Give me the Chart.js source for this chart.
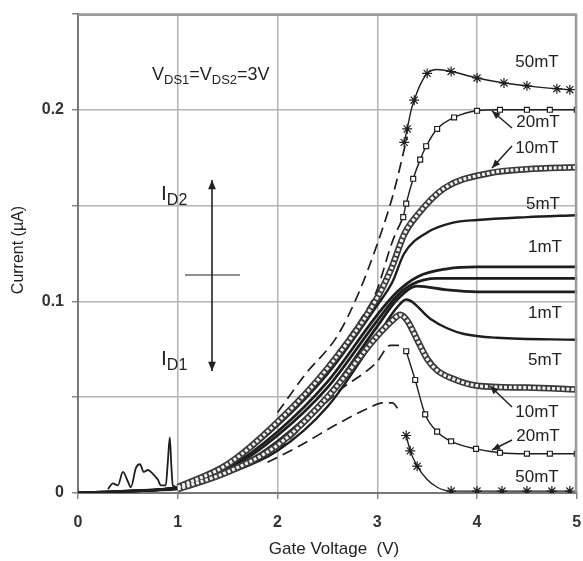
<!DOCTYPE html>
<html>
<head>
<meta charset="utf-8">
<script src="https://cdn.jsdelivr.net/npm/chart.js@4.4.1/dist/chart.umd.min.js"></script>
<style>
  html, body { margin: 0; padding: 0; background: #fff; }
  #wrap { width: 583px; height: 561px; }
</style>
</head>
<body>
<div id="wrap"><canvas id="grafico" width="583" height="561"></canvas></div>
<script>
// eixo X: tensao de gate (V), eixo Y: corrente (uA)
const xTicks = [0, 1, 2, 3, 4, 5];
const yTickLabels = ["0", "0.1", "0.2"];

// ruido perto de 1V
const ruido = [[0.3,0.002],[0.35,0.005],[0.4,0.004],[0.45,0.011],[0.5,0.006],[0.53,0.003],[0.58,0.013],[0.62,0.015],[0.66,0.011],[0.7,0.012],[0.75,0.01],[0.8,0.007],[0.83,0.004],[0.88,0.004],[0.9,0.016],[0.92,0.029],[0.935,0.015],[0.95,0.004],[1.0,0.003]];

// ===== ID2 (sobe com o campo) =====
const id2_1mT  = [[0,0],[0.5,0.001],[1,0.003],[1.5,0.013],[2,0.032],[2.5,0.058],[3,0.093],[3.2,0.105],[3.41,0.113],[3.7,0.117],[4,0.118],[5,0.118]];
const id0_0mT  = [[0,0],[0.5,0.001],[1,0.003],[1.5,0.012],[2,0.03],[2.5,0.055],[3,0.09],[3.2,0.103],[3.35,0.109],[3.6,0.112],[5,0.112]];
const id2_5mT  = [[0,0],[0.5,0.001],[1,0.003],[1.5,0.014],[2,0.035],[2.5,0.062],[3,0.098],[3.15,0.11],[3.27,0.125],[3.5,0.136],[3.75,0.141],[4,0.1425],[4.5,0.144],[5,0.145]];
const id2_10mT = [[1,0.003],[1.5,0.015],[2,0.037],[2.5,0.065],[3,0.102],[3.14,0.117],[3.27,0.135],[3.4,0.145],[3.67,0.159],[4.13,0.167],[4.5,0.169],[5,0.17]];
const id2_20mT = [[3.26,0.144],[3.29,0.151],[3.36,0.164],[3.43,0.174],[3.49,0.181],[3.6,0.19],[3.77,0.196],[4.0,0.1995],[4.23,0.2],[4.5,0.2],[4.73,0.2],[5,0.2]];
const id2_20mT_sim = [[2.4,0.06],[2.68,0.079],[2.85,0.092],[2.99,0.105],[3.15,0.131],[3.26,0.144]];
const id2_50mT = [[3.27,0.183],[3.3,0.19],[3.34,0.2],[3.37,0.205],[3.43,0.213],[3.5,0.219],[3.6,0.221],[3.74,0.22],[4.0,0.2166],[4.27,0.214],[4.5,0.2125],[4.8,0.211],[4.93,0.2105]];
const id2_50mT_sim = [[2.0,0.042],[2.28,0.062],[2.6,0.082],[2.81,0.104],[3.0,0.13],[3.16,0.156],[3.3,0.186]];

// ===== ID1 (desce com o campo) =====
const id1_1mT  = [[0,0],[0.5,0.001],[1,0.003],[1.5,0.011],[2,0.027],[2.5,0.051],[3,0.087],[3.2,0.101],[3.4,0.108],[3.7,0.106],[4,0.105],[5,0.105]];
const id1_5mT  = [[0,0],[0.5,0.001],[1,0.002],[1.5,0.01],[2,0.022],[2.5,0.045],[3,0.082],[3.2,0.097],[3.29,0.101],[3.53,0.091],[3.7,0.086],[3.87,0.083],[4.2,0.081],[5,0.08]];
const id1_10mT = [[1,0.002],[1.5,0.011],[2,0.025],[2.5,0.05],[3,0.082],[3.15,0.09],[3.23,0.093],[3.3,0.09],[3.4,0.08],[3.5,0.07],[3.6,0.064],[3.74,0.06],[4,0.056],[4.5,0.055],[5,0.054]];
const id1_20mT = [[3.29,0.074],[3.38,0.059],[3.48,0.041],[3.6,0.032],[3.74,0.027],[3.99,0.023],[4.23,0.021],[4.5,0.0205],[4.73,0.0205],[5,0.0205]];
const id1_20mT_sim = [[2.0,0.022],[2.14,0.029],[2.61,0.053],[2.99,0.068],[3.13,0.077],[3.22,0.077]];
const id1_50mT = [[3.29,0.03],[3.33,0.022],[3.4,0.014],[3.5,0.007],[3.6,0.003],[3.74,0.001],[4,0.001],[4.25,0.001],[4.5,0.001],[4.75,0.001],[4.93,0.001]];
const id1_50mT_sim = [[1.9,0.016],[2.2,0.024],[2.6,0.036],[2.94,0.045],[3.05,0.047],[3.15,0.047],[3.22,0.043]];

const PRETO = "#1e1e1e";
const FONTE = "'Liberation Sans', Arial, sans-serif";

function pts(arr) { return arr.map(p => ({ x: p[0], y: p[1] })); }

// order: quanto maior, mais em baixo fica a curva
function linha(arr, extra) {
  return Object.assign({
    data: pts(arr),
    showLine: true,
    borderColor: PRETO,
    borderWidth: 2.2,
    pointRadius: 0,
    cubicInterpolationMode: "monotone",
    fill: false,
    order: 5
  }, extra || {});
}
function tracejada(arr) {
  return linha(arr, { borderWidth: 1.7, borderDash: [11, 6], order: 6 });
}
function quadrados(arr) {
  return linha(arr, { borderWidth: 1.4, pointStyle: "rect", pointRadius: 3.5, pointBackgroundColor: "#fff", pointBorderColor: PRETO, pointBorderWidth: 1.2, order: 1 });
}
// asteriscos so em alguns pontos (o resto so desenha a curva)
function asteriscos(arr, mostrar) {
  return linha(arr, {
    borderWidth: 1.4, pointStyle: "star",
    pointRadius: arr.map((p, i) => mostrar.includes(i) ? 5 : 0),
    pointBorderColor: PRETO, pointBorderWidth: 1.2, order: 1
  });
}
// linha de circulos densos: traço grosso escuro + traço claro picotado por cima
function circulos(arr) {
  return [
    linha(arr, { borderColor: "#3a3a3a", borderWidth: 6.5, order: 3 }),
    linha(arr, { borderColor: "#f2f2f2", borderWidth: 3.2, borderDash: [3, 1.8], borderCapStyle: "butt", order: 2 })
  ];
}

const datasets = [
  linha(ruido, { borderWidth: 1.8 }),
  tracejada(id2_50mT_sim), tracejada(id2_20mT_sim), tracejada(id1_20mT_sim), tracejada(id1_50mT_sim),
  linha(id0_0mT, { borderWidth: 2.8 }),
  linha(id2_1mT, { borderWidth: 2.8 }),
  linha(id1_1mT, { borderWidth: 2.8 }),
  linha(id2_5mT, { borderWidth: 2.4 }), linha(id1_5mT, { borderWidth: 2.4 }),
  ...circulos(id2_10mT), ...circulos(id1_10mT),
  quadrados(id2_20mT), quadrados(id1_20mT),
  asteriscos(id2_50mT, [0, 1, 3, 5, 7, 8, 9, 10, 11, 12]),
  asteriscos(id1_50mT, [0, 1, 2, 5, 6, 7, 8, 9, 10])
];

// ===== textos e setas =====
function seta(ctx, x1, y1, x2, y2, tam) {
  const a = Math.atan2(y2 - y1, x2 - x1);
  ctx.beginPath(); ctx.moveTo(x1, y1); ctx.lineTo(x2, y2); ctx.stroke();
  ctx.beginPath();
  ctx.moveTo(x2, y2);
  ctx.lineTo(x2 - tam * Math.cos(a - 0.4), y2 - tam * Math.sin(a - 0.4));
  ctx.lineTo(x2 - tam * Math.cos(a + 0.4), y2 - tam * Math.sin(a + 0.4));
  ctx.closePath(); ctx.fill();
}
function comIndice(ctx, x, y, base, sub, fb, fs) {
  ctx.font = fb + "px " + FONTE;
  ctx.fillText(base, x, y);
  let w = ctx.measureText(base).width;
  ctx.font = fs + "px " + FONTE;
  ctx.fillText(sub, x + w, y + fb * 0.3);
  return x + w + ctx.measureText(sub).width;
}

const anotacoes = {
  id: "anotacoes",
  afterDraw(chart) {
    const ctx = chart.ctx, a = chart.chartArea;
    ctx.save();

    // moldura em cima e a direita
    ctx.strokeStyle = "#9a9a9a";
    ctx.lineWidth = 2;
    ctx.beginPath();
    ctx.moveTo(a.left, a.top + 1); ctx.lineTo(a.right - 1, a.top + 1); ctx.lineTo(a.right - 1, a.bottom);
    ctx.stroke();

    ctx.fillStyle = "#222";
    ctx.strokeStyle = "#222";
    ctx.textBaseline = "middle";
    ctx.textAlign = "left";

    // VDS1 = VDS2 = 3V
    let x = comIndice(ctx, 152, 75, "V", "DS1", 18, 13);
    x = comIndice(ctx, x, 75, "=V", "DS2", 18, 13);
    ctx.font = "18px " + FONTE;
    ctx.fillText("=3V", x, 75);

    // ID2 / ID1
    comIndice(ctx, 161, 194, "I", "D2", 21, 16);
    comIndice(ctx, 161, 359, "I", "D1", 21, 16);
    ctx.lineWidth = 1.6;
    seta(ctx, 212, 273, 212, 180, 10);
    seta(ctx, 212, 273, 212, 371, 10);
    ctx.lineWidth = 1.2;
    ctx.beginPath(); ctx.moveTo(185, 275); ctx.lineTo(240, 275); ctx.stroke();

    // rotulos de campo
    ctx.font = "17px " + FONTE;
    ctx.textAlign = "center";
    const rot = [["50mT", 537, 62], ["20mT", 538, 122], ["10mT", 537, 148], ["5mT", 543, 204], ["1mT", 545, 247],
                 ["1mT", 545, 313], ["5mT", 545, 360], ["10mT", 537, 412], ["20mT", 538, 436], ["50mT", 537, 477]];
    rot.forEach(r => ctx.fillText(r[0], r[1], r[2]));
    ctx.lineWidth = 1.5;
    seta(ctx, 512, 128, 492, 111, 9);
    seta(ctx, 512, 146, 492, 168, 9);
    seta(ctx, 512, 407, 490, 386, 9);
    seta(ctx, 512, 440, 492, 450, 9);

    // titulos dos eixos
    ctx.font = "17px " + FONTE;
    ctx.fillText("Gate Voltage  (V)", 334, 549);
    ctx.save();
    ctx.translate(19, 250);
    ctx.rotate(-Math.PI / 2);
    ctx.font = "16px " + FONTE;
    ctx.fillText("Current (\u00b5A)", 0, 0);
    ctx.restore();
    ctx.restore();
  }
};

new Chart(document.getElementById("grafico"), {
  type: "scatter",
  data: { datasets: datasets },
  options: {
    responsive: false,
    animation: false,
    layout: { padding: { left: 0, right: 3, top: 14, bottom: 0 } },
    plugins: { legend: { display: false }, tooltip: { enabled: false } },
    scales: {
      x: {
        type: "linear", min: 0, max: 5,
        afterFit: s => { s.height = 68; s.paddingLeft = 0; s.paddingRight = 0; },
        afterBuildTicks: s => { s.ticks = xTicks.map(v => ({ value: v })); },
        ticks: { color: "#333", font: { family: FONTE, size: 16, weight: "bold" }, padding: 14 },
        grid: { color: "#b4b4b4", lineWidth: 1.5, tickLength: 6, tickColor: "#888" },
        border: { color: "#777", width: 2 }
      },
      y: {
        type: "linear", min: 0, max: 0.25,
        afterFit: s => { s.width = 78; s.paddingTop = 0; s.paddingBottom = 0; },
        ticks: {
          stepSize: 0.05,
          color: "#333",
          font: { family: FONTE, size: 16, weight: "bold" },
          padding: 8,
          callback: v => {
            const i = Math.round(v * 10);
            return Math.abs(v * 10 - i) < 1e-6 && i < yTickLabels.length ? yTickLabels[i] : "";
          }
        },
        grid: { color: "#b4b4b4", lineWidth: 1.5, tickLength: 6, tickColor: "#888" },
        border: { color: "#777", width: 2 }
      }
    }
  },
  plugins: [anotacoes]
});
</script>
</body>
</html>
